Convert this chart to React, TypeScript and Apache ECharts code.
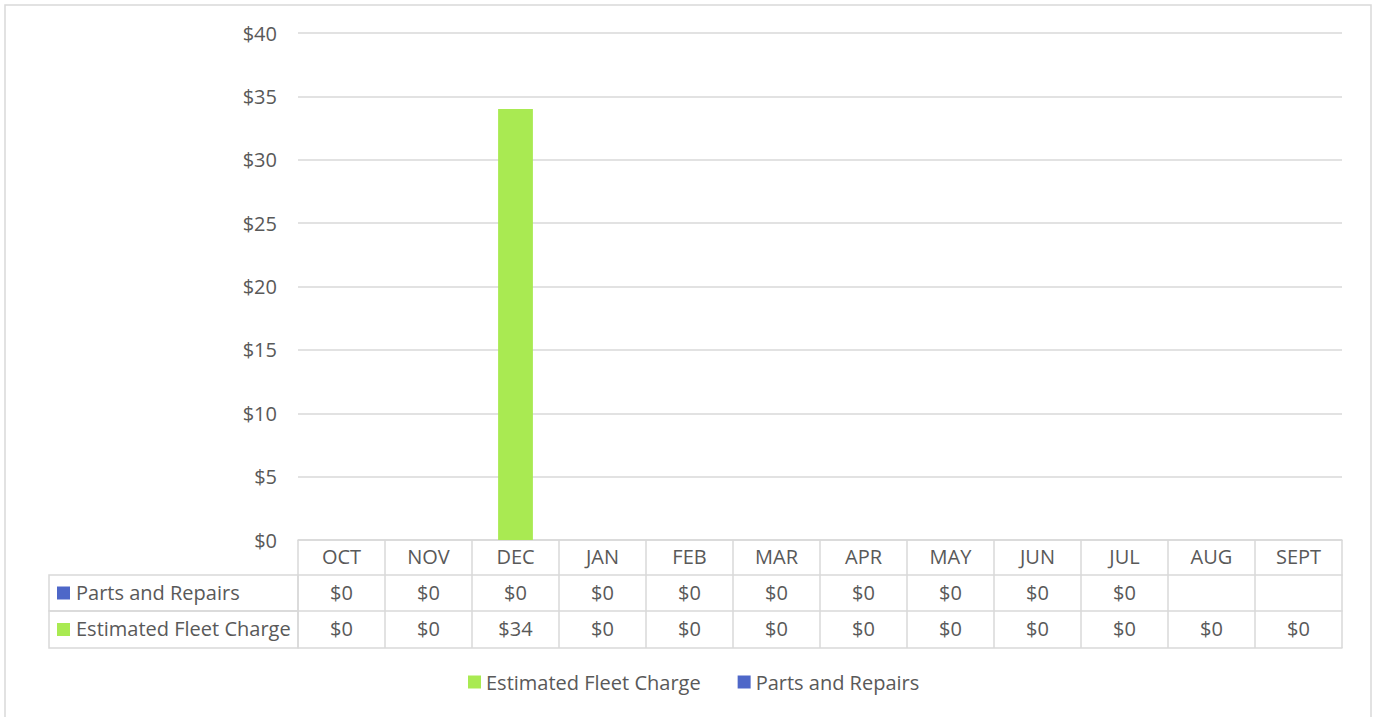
import React, { useEffect, useRef } from "react";
import * as echarts from "echarts";

const months = ["OCT", "NOV", "DEC", "JAN", "FEB", "MAR", "APR", "MAY", "JUN", "JUL", "AUG", "SEPT"];
const partsAndRepairs: (number | null)[] = [0, 0, 0, 0, 0, 0, 0, 0, 0, 0, null, null];
const estimatedFleetCharge: (number | null)[] = [0, 0, 34, 0, 0, 0, 0, 0, 0, 0, 0, 0];
const yTicks = { min: 0, max: 40, interval: 5 };

const GREEN = "#A9EA52";
const BLUE = "#4E67C8";
const GRID = "#D9D9D9";
const TEXT = "#595959";
const FONT = "Open Sans";

const fmt = (v: number | null) => (v == null ? "" : "$" + v);

export default function App() {
  const ref = useRef<HTMLDivElement>(null);
  useEffect(() => {
    document.body.style.margin = "0";
    const chart = echarts.init(ref.current!, null, { renderer: "svg" });
    const rowH = [35, 36, 37];
    const tableAxis = (idx: number, offset: number, len: number, formatter: (v: string, i: number) => string) => ({
      type: "category",
      gridIndex: 0,
      position: "bottom",
      offset,
      data: months,
      boundaryGap: true,
      axisLine: { show: true, lineStyle: { color: GRID, width: 1.5 } },
      axisTick: { show: true, interval: 0, length: len, lineStyle: { color: GRID, width: 1.5 } },
      axisLabel: {
        show: true,
        interval: 0,
        margin: len / 2 - 1,
        verticalAlign: "middle",
        color: TEXT,
        fontFamily: FONT,
        fontSize: 20,
        formatter,
      },
      splitLine: { show: false },
    });
    const left = 298;
    const seriesNames = ["Estimated Fleet Charge", "Parts and Repairs"];
    chart.setOption({
      animation: false,
      textStyle: { fontFamily: FONT },
      grid: { left, right: 35, top: 33, bottom: 177, containLabel: false },
      legend: {
        data: seriesNames,
        left: 463,
        top: 667,
        icon: "rect",
        itemWidth: 13,
        itemHeight: 13,
        itemGap: 37,
        textStyle: { color: TEXT, fontSize: 20, fontFamily: FONT },
      },
      xAxis: [
        tableAxis(0, 0, rowH[0], (v) => v),
        tableAxis(1, rowH[0], rowH[1], (_v, i) => fmt(partsAndRepairs[i])),
        tableAxis(2, rowH[0] + rowH[1], rowH[2], (_v, i) => fmt(estimatedFleetCharge[i])),
        {
          type: "category",
          position: "bottom",
          offset: rowH[0] + rowH[1] + rowH[2],
          data: months,
          axisLine: { show: true, lineStyle: { color: GRID, width: 1.5 } },
          axisTick: { show: false },
          axisLabel: { show: false },
        },
      ],
      yAxis: {
        type: "value",
        min: yTicks.min,
        max: yTicks.max,
        interval: yTicks.interval,
        axisLine: { show: false },
        axisTick: { show: false },
        axisLabel: {
          margin: 21,
          color: TEXT,
          fontFamily: FONT,
          fontSize: 20,
          formatter: (v: number) => "$" + v,
        },
        splitLine: { lineStyle: { color: GRID, width: 1.5 } },
      },
      series: [
        {
          name: seriesNames[0],
          type: "bar",
          stack: "total",
          xAxisIndex: 0,
          barWidth: "40%",
          itemStyle: { color: GREEN },
          data: estimatedFleetCharge,
        },
        {
          name: seriesNames[1],
          type: "bar",
          stack: "total",
          xAxisIndex: 0,
          barWidth: "40%",
          itemStyle: { color: BLUE },
          data: partsAndRepairs,
        },
      ],
      graphic: [
        {
          type: "rect",
          shape: { x: 5, y: 5, width: 1366, height: 730 },
          style: { fill: "none", stroke: GRID, lineWidth: 1.5 },
          silent: true,
        },
        {
          type: "rect",
          shape: { x: 49, y: 540 + rowH[0], width: left - 49, height: rowH[1] },
          style: { fill: "none", stroke: GRID, lineWidth: 1.5 },
        },
        {
          type: "rect",
          shape: { x: 49, y: 540 + rowH[0] + rowH[1], width: left - 49, height: rowH[2] },
          style: { fill: "none", stroke: GRID, lineWidth: 1.5 },
        },
        {
          type: "rect",
          shape: { x: 57, y: 540 + rowH[0] + rowH[1] / 2 - 6.5, width: 13, height: 13 },
          style: { fill: BLUE },
        },
        {
          type: "text",
          x: 76,
          y: 540 + rowH[0] + rowH[1] / 2 - 1,
          style: { text: seriesNames[1], fill: TEXT, font: `20px '${FONT}'`, verticalAlign: "middle" },
        },
        {
          type: "rect",
          shape: { x: 57, y: 540 + rowH[0] + rowH[1] + rowH[2] / 2 - 6.5, width: 13, height: 13 },
          style: { fill: GREEN },
        },
        {
          type: "text",
          x: 76,
          y: 540 + rowH[0] + rowH[1] + rowH[2] / 2 - 1,
          style: { text: seriesNames[0], fill: TEXT, font: `20px '${FONT}'`, verticalAlign: "middle" },
        },
      ],
    });
    return () => chart.dispose();
  }, []);
  return <div ref={ref} style={{ width: 1377, height: 717 }} />;
}
